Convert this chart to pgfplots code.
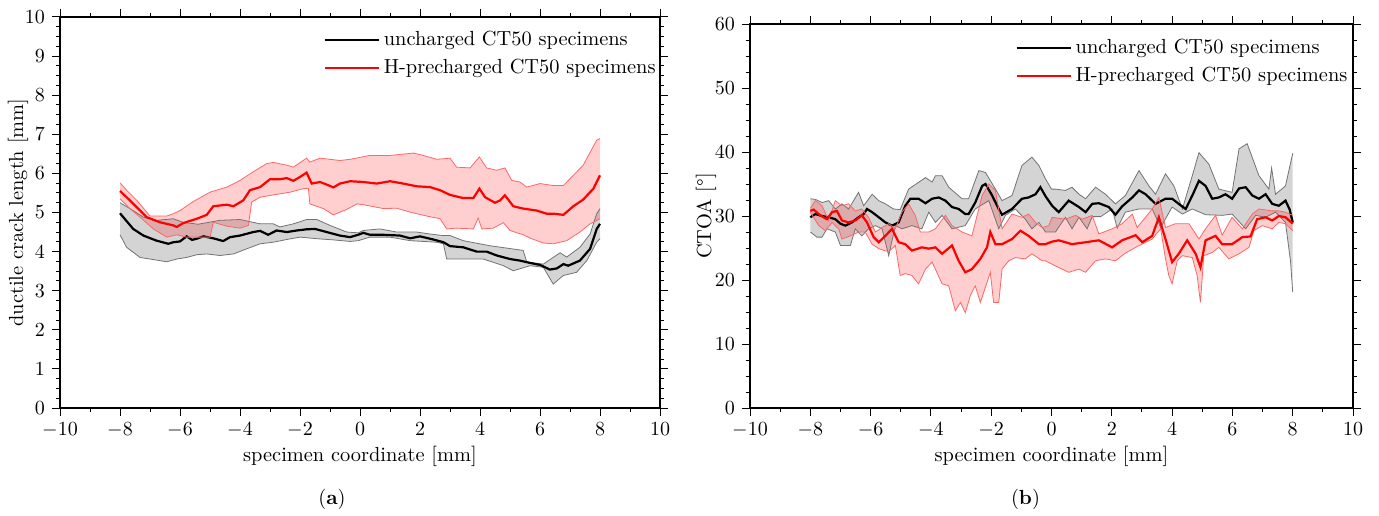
\documentclass[border=0pt]{standalone}
\usepackage{pgfplots}
\usepackage{pgfplotstable}
\pgfplotsset{compat=1.18}
\usepgfplotslibrary{fillbetween}

% ---------------- left plot (a) ----------------
\pgfplotstableread{
x y
-8 4.98
-7.56 4.58
-7.22 4.41
-6.78 4.28
-6.39 4.20
-6.22 4.24
-6.0 4.26
-5.78 4.39
-5.6 4.30
-5.44 4.33
-5.22 4.39
-4.89 4.34
-4.56 4.27
-4.33 4.37
-4.0 4.41
-3.56 4.50
-3.33 4.53
-3.06 4.43
-2.78 4.54
-2.44 4.50
-2.11 4.54
-1.78 4.57
-1.5 4.58
-1.11 4.50
-0.67 4.41
-0.33 4.37
-0.06 4.43
0.11 4.48
0.33 4.43
0.78 4.43
1.33 4.41
1.67 4.34
2.0 4.39
2.44 4.31
2.78 4.24
3.0 4.14
3.44 4.11
3.89 4.00
4.22 4.00
4.56 3.90
5.0 3.81
5.33 3.77
5.67 3.71
6.0 3.66
6.33 3.54
6.56 3.57
6.78 3.68
6.94 3.64
7.33 3.77
7.67 4.07
7.89 4.58
8.0 4.71
}\LBm
\pgfplotstableread{
x y
-8 5.25
-7.56 5.05
-7.22 4.88
-6.78 4.80
-6.22 4.84
-5.9 4.75
-5.4 4.70
-4.67 4.80
-4.0 4.82
-3.33 4.71
-2.89 4.71
-2.67 4.63
-2.22 4.71
-1.78 4.82
-1.44 4.82
-1.0 4.67
-0.44 4.50
-0.06 4.48
0.11 4.54
0.67 4.58
1.22 4.50
1.89 4.50
2.33 4.45
2.78 4.41
3.0 4.41
3.44 4.28
4.33 4.15
4.89 4.09
5.44 4.03
5.56 3.73
6.11 3.68
6.67 3.97
6.89 3.86
7.33 4.11
7.67 4.45
7.89 4.97
8.0 5.10
}\LBu
\pgfplotstableread{
x y
-8 4.43
-7.78 4.11
-7.33 3.85
-7.0 3.81
-6.44 3.74
-6.11 3.81
-5.78 3.85
-5.44 3.92
-5.11 3.94
-4.67 3.90
-4.22 3.94
-3.78 4.07
-3.33 4.20
-2.89 4.24
-2.44 4.31
-2.0 4.37
-1.44 4.33
-0.89 4.30
-0.33 4.26
-0.06 4.28
0.33 4.37
1.0 4.37
1.67 4.28
2.56 4.24
2.78 4.20
2.89 3.81
3.44 3.81
4.11 3.81
4.78 3.64
5.11 3.51
5.67 3.64
6.11 3.60
6.44 3.17
6.78 3.39
7.22 3.47
7.56 3.77
7.89 4.24
8.0 4.33
}\LBl
\pgfplotstableread{
x y
-8 5.55
-7.67 5.31
-7.33 5.05
-7.11 4.88
-6.67 4.75
-6.22 4.67
-6.11 4.63
-5.89 4.73
-5.44 4.84
-5.11 4.94
-4.89 5.16
-4.44 5.20
-4.22 5.16
-3.89 5.31
-3.67 5.57
-3.33 5.65
-3.0 5.85
-2.67 5.85
-2.44 5.88
-2.22 5.81
-2.0 5.91
-1.78 6.02
-1.61 5.74
-1.33 5.78
-1.0 5.68
-0.89 5.64
-0.67 5.74
-0.33 5.80
0.11 5.78
0.56 5.74
1.0 5.80
1.44 5.74
1.89 5.67
2.33 5.65
2.67 5.57
3.0 5.45
3.44 5.37
3.78 5.37
3.98 5.61
4.17 5.39
4.5 5.25
4.67 5.31
4.83 5.44
5.0 5.27
5.11 5.16
5.44 5.10
5.89 5.05
6.22 4.97
6.44 4.97
6.78 4.94
7.11 5.16
7.44 5.33
7.78 5.61
8.0 5.95
}\LRm
\pgfplotstableread{
x y
-8 5.76
-7.78 5.57
-7.44 5.31
-7.0 4.91
-6.44 4.91
-6.22 4.97
-6.0 5.05
-5.56 5.28
-5.0 5.52
-4.44 5.65
-4.0 5.82
-3.56 6.04
-3.11 6.25
-2.89 6.28
-2.44 6.21
-2.22 6.16
-1.78 6.39
-1.67 6.29
-1.33 6.39
-0.67 6.33
-0.33 6.36
0.33 6.46
1.0 6.46
1.78 6.52
2.11 6.46
2.56 6.36
3.0 6.39
3.22 6.16
3.67 6.14
3.98 6.42
4.22 6.14
4.56 6.08
4.83 6.14
5.06 5.82
5.33 5.78
5.56 5.65
6.0 5.74
6.44 5.69
6.78 5.69
7.11 5.95
7.44 6.21
7.89 6.85
8.0 6.89
}\LRu
\pgfplotstableread{
x y
-8 5.35
-7.67 5.10
-7.33 4.88
-6.89 4.58
-6.44 4.37
-6.11 4.43
-5.78 4.37
-5.33 4.37
-5.0 4.37
-4.89 4.75
-4.44 4.65
-4.0 4.60
-3.72 4.67
-3.61 5.27
-3.33 5.39
-2.89 5.45
-2.33 5.52
-1.89 5.61
-1.72 5.62
-1.67 5.22
-1.22 5.10
-0.89 4.94
-0.44 5.08
-0.1 5.22
0.11 5.20
0.78 5.10
1.22 5.11
1.67 5.01
2.22 4.91
2.67 4.84
2.89 4.58
3.22 4.60
3.78 4.58
3.94 4.86
4.06 4.58
4.44 4.60
4.78 4.74
5.0 4.54
5.44 4.43
5.72 4.33
6.11 4.22
6.44 4.20
6.89 4.28
7.33 4.50
7.67 4.71
8.0 4.84
}\LRl

% ---------------- right plot (b) ----------------
\pgfplotstableread{
x y
-8.0 29.8
-7.83 30.3
-7.61 30.0
-7.39 29.8
-7.17 29.5
-7.0 28.8
-6.84 28.5
-6.62 29.0
-6.4 29.8
-6.23 30.3
-6.12 31.1
-5.95 30.6
-5.73 29.8
-5.51 29.0
-5.29 28.5
-5.07 29.0
-4.85 31.6
-4.68 32.7
-4.41 32.7
-4.18 32.0
-3.96 32.7
-3.74 32.9
-3.52 32.4
-3.3 31.4
-3.08 31.1
-2.86 30.3
-2.75 30.3
-2.53 32.1
-2.3 34.7
-2.19 35.0
-1.97 33.2
-1.75 31.1
-1.64 30.2
-1.31 31.1
-0.98 32.7
-0.76 32.9
-0.53 33.4
-0.37 34.5
-0.2 33.1
0.02 31.6
0.24 30.6
0.57 32.4
0.91 31.4
1.13 30.6
1.35 31.9
1.57 32.0
1.9 31.4
2.12 30.2
2.34 31.5
2.68 32.9
2.9 34.0
3.12 33.4
3.45 31.9
3.78 32.7
4.0 32.7
4.22 31.9
4.45 31.1
4.67 33.2
4.89 35.5
5.11 34.7
5.33 32.7
5.55 32.9
5.77 33.4
5.99 32.7
6.22 34.3
6.44 34.5
6.66 33.2
6.88 32.7
7.1 33.4
7.32 31.9
7.54 31.6
7.76 32.4
7.9 31.0
8.0 29.0
}\RBm
\pgfplotstableread{
x y
-8.0 32.7
-7.83 32.6
-7.61 32.1
-7.39 32.4
-7.17 31.1
-6.95 31.9
-6.73 31.1
-6.4 33.7
-6.23 31.6
-5.95 33.4
-5.73 32.4
-5.51 31.9
-5.24 31.1
-5.02 31.0
-4.74 34.2
-4.18 36.0
-3.96 35.3
-3.85 36.3
-3.63 36.3
-3.41 34.5
-2.97 32.7
-2.75 32.7
-2.41 37.1
-2.19 36.8
-1.86 34.2
-1.64 32.4
-1.31 33.2
-0.98 37.9
-0.65 39.2
-0.42 37.9
-0.2 35.8
0.0 34.2
0.13 34.2
0.46 34.0
0.68 34.5
0.91 33.4
1.13 32.7
1.46 34.5
1.79 33.4
2.12 31.9
2.45 33.2
2.9 37.1
3.23 34.7
3.45 33.4
3.78 36.6
4.06 34.7
4.34 31.1
4.67 36.3
4.89 39.9
5.22 38.1
5.55 34.2
5.99 33.7
6.22 40.5
6.49 41.3
6.88 36.3
7.21 34.2
7.3 37.5
7.43 33.4
7.76 34.7
8.0 39.8
}\RBu
\pgfplotstableread{
x y
-8.0 27.5
-7.78 26.7
-7.61 26.7
-7.45 28.0
-7.17 27.5
-7.0 25.4
-6.67 25.4
-6.51 28.0
-6.29 26.9
-6.07 28.0
-5.84 28.5
-5.62 28.0
-5.4 23.8
-5.18 28.5
-4.96 28.0
-4.63 28.5
-4.3 28.0
-4.07 30.6
-3.85 29.0
-3.63 30.1
-3.3 28.0
-2.86 28.5
-2.53 31.1
-2.08 32.4
-1.75 28.0
-1.53 30.1
-1.2 31.1
-0.87 29.5
-0.65 28.0
-0.42 29.0
-0.2 27.5
0.13 27.5
0.46 29.8
0.68 28.0
0.91 29.8
1.18 28.0
1.35 29.9
1.63 29.9
2.01 31.1
2.18 28.1
2.45 30.6
2.9 31.1
3.34 31.1
3.62 28.2
4.0 31.4
4.34 30.3
4.67 31.1
5.11 30.2
5.66 30.1
5.99 30.3
6.44 28.0
6.77 30.1
7.1 29.8
7.43 30.6
7.76 29.0
7.93 22.8
8.0 18.1
}\RBl
\pgfplotstableread{
x y
-8.0 30.8
-7.89 31.0
-7.67 30.1
-7.45 29.5
-7.28 30.6
-7.12 30.8
-6.95 29.3
-6.73 29.0
-6.51 29.3
-6.29 30.1
-6.12 29.0
-5.9 26.7
-5.73 25.9
-5.51 26.9
-5.29 28.0
-5.07 25.9
-4.85 25.6
-4.63 24.6
-4.3 25.1
-4.07 24.9
-3.85 25.1
-3.63 24.1
-3.3 25.4
-3.08 23.0
-2.86 21.2
-2.64 21.7
-2.36 23.3
-2.14 25.1
-2.03 27.5
-1.86 25.6
-1.64 25.6
-1.31 26.4
-1.03 27.7
-0.76 26.9
-0.42 25.6
-0.2 25.6
0.02 26.0
0.24 26.2
0.68 25.6
1.13 25.9
1.57 26.2
2.01 25.1
2.34 26.2
2.79 27.0
3.01 25.9
3.34 26.9
3.56 29.8
3.78 26.4
4.0 22.8
4.22 24.1
4.5 26.2
4.78 24.1
4.94 22.0
5.11 26.2
5.44 26.9
5.66 25.6
5.99 25.6
6.33 26.7
6.6 26.8
6.82 29.5
7.1 29.8
7.32 29.3
7.54 30.0
7.76 29.8
8.0 28.8
}\RRm
\pgfplotstableread{
x y
-8.0 31.2
-7.83 32.4
-7.61 31.6
-7.39 29.3
-7.17 32.4
-6.95 31.6
-6.73 31.9
-6.51 30.8
-6.29 31.1
-6.07 29.8
-5.84 27.5
-5.62 28.2
-5.4 28.8
-5.18 28.0
-4.96 30.6
-4.74 31.9
-4.52 30.1
-4.35 27.5
-4.07 27.5
-3.85 28.0
-3.52 30.1
-3.3 28.5
-2.97 27.5
-2.64 26.9
-2.3 33.2
-2.08 35.0
-1.86 34.0
-1.64 28.0
-1.31 30.3
-0.98 29.8
-0.76 30.3
-0.53 29.0
-0.31 28.2
-0.09 28.5
0.02 29.8
0.46 29.5
0.8 30.1
1.02 29.5
1.35 30.1
1.57 27.2
2.01 28.0
2.34 28.8
2.68 30.3
2.84 28.2
3.12 29.8
3.34 31.1
3.56 32.9
3.78 28.2
4.11 28.8
4.56 28.8
4.89 26.4
5.11 28.0
5.44 30.1
5.66 27.0
5.99 29.8
6.33 28.0
6.66 30.3
6.88 31.1
7.32 30.8
7.54 30.8
7.76 30.6
8.0 30.1
}\RRu
\pgfplotstableread{
x y
-8.0 30.6
-7.72 28.5
-7.5 27.7
-7.28 29.0
-7.06 28.0
-6.95 26.4
-6.67 26.9
-6.4 27.5
-6.18 27.5
-5.95 25.6
-5.73 24.9
-5.4 24.4
-5.18 25.4
-5.02 20.7
-4.85 21.0
-4.63 20.7
-4.41 19.4
-4.18 21.7
-3.96 22.8
-3.63 19.4
-3.41 19.1
-3.19 15.2
-3.02 16.5
-2.86 14.9
-2.69 17.6
-2.53 19.1
-2.36 16.5
-2.19 18.9
-2.03 21.2
-1.92 16.5
-1.75 16.5
-1.64 21.7
-1.42 23.0
-1.2 23.5
-0.87 23.3
-0.65 24.1
-0.31 23.0
-0.2 23.0
0.13 22.2
0.57 21.2
0.91 21.7
1.13 21.2
1.46 23.0
1.79 23.3
2.12 23.0
2.45 24.2
2.79 25.1
3.12 25.9
3.34 26.4
3.62 28.0
3.78 23.3
3.89 20.7
4.0 19.4
4.17 23.0
4.34 23.8
4.67 23.5
4.83 20.7
4.94 16.5
5.05 23.8
5.33 24.3
5.55 25.1
5.88 23.3
6.22 24.1
6.55 25.1
6.71 27.7
6.99 28.5
7.32 28.0
7.54 29.0
7.76 28.8
8.0 27.7
}\RRl

\pgfplotsset{
  mystyle/.style={
    scale only axis,
    anchor=south west,
    xmin=-10, xmax=10,
    xtick={-10,-8,...,10},
    minor x tick num=1,
    minor y tick num=3,
    tick align=outside,
    tick pos=both,
    major tick length=4pt,
    minor tick length=2pt,
    every tick/.style={black, line width=0.5pt},
    axis line style={line width=0.7pt},
    tick label style={font=\fontsize{10}{12}\selectfont},
    label style={font=\fontsize{10.2}{12}\selectfont},
    x label style={at={(axis description cs:0.5,0)}, anchor=center, yshift=-24pt},
    legend style={draw=none, fill=none, inner sep=0pt, anchor=north east,
      font=\fontsize{10.2}{12}\selectfont, row sep=1.5pt,
      legend cell align=left},
    legend image code/.code={\draw[##1] (0pt,0pt) -- (27pt,0pt);},
  },
  gband/.style={draw=none, forget plot},
  gedge/.style={black!55, line width=0.4pt, forget plot},
  redge/.style={red!60, line width=0.4pt, forget plot},
}

\begin{document}
\begin{tikzpicture}

\begin{axis}[mystyle, name=A,
  at={(30pt,53.5pt)}, width=300pt, height=195.5pt,
  ymin=0, ymax=10, ytick={0,1,...,10},
  xlabel={specimen coordinate [mm]},
  ylabel={ductile crack length [mm]},
  y label style={at={(axis description cs:-0.07,0.5)}, anchor=center},
  legend style={at={(1.0,0.975)}},
]
\addplot[gband, name path=gu] table {\LBu};
\addplot[gband, name path=gl] table {\LBl};
\addplot[fill=black!17, draw=none] fill between[of=gu and gl];
\addplot[gedge] table {\LBu};
\addplot[gedge] table {\LBl};
\addplot[black, line width=1.1pt] table {\LBm};
\addplot[gband, name path=ru] table {\LRu};
\addplot[gband, name path=rl] table {\LRl};
\addplot[fill=red, fill opacity=0.19, draw=none] fill between[of=ru and rl];
\addplot[redge] table {\LRu};
\addplot[redge] table {\LRl};
\addplot[red, line width=1.1pt] table {\LRm};
\legend{,uncharged CT50 specimens,,H-precharged CT50 specimens}
\end{axis}
\node[font=\fontsize{10.2}{12}\selectfont] at ([xshift=-14pt,yshift=-45.5pt]A.south) {(\textbf{a})};

\begin{axis}[mystyle, name=B,
  at={(375pt,53.5pt)}, width=301.5pt, height=192pt,
  ymin=0, ymax=60, ytick={0,10,...,60},
  xlabel={specimen coordinate [mm]},
  ylabel={CTOA [\textdegree]},
  y label style={at={(axis description cs:-0.073,0.5)}, anchor=center},
  legend style={at={(0.998,0.972)}},
]
\addplot[gband, name path=gu] table {\RBu};
\addplot[gband, name path=gl] table {\RBl};
\addplot[fill=black!17, draw=none] fill between[of=gu and gl];
\addplot[gedge] table {\RBu};
\addplot[gedge] table {\RBl};
\addplot[black, line width=1.1pt] table {\RBm};
\addplot[gband, name path=ru] table {\RRu};
\addplot[gband, name path=rl] table {\RRl};
\addplot[fill=red, fill opacity=0.19, draw=none] fill between[of=ru and rl];
\addplot[redge] table {\RRu};
\addplot[redge] table {\RRl};
\addplot[red, line width=1.1pt] table {\RRm};
\legend{,uncharged CT50 specimens,,H-precharged CT50 specimens}
\end{axis}
\node[font=\fontsize{10.2}{12}\selectfont] at ([xshift=-13pt,yshift=-45.5pt]B.south) {(\textbf{b})};
\path (0,0) rectangle (689.5pt,257.5pt);
\end{tikzpicture}
\end{document}
